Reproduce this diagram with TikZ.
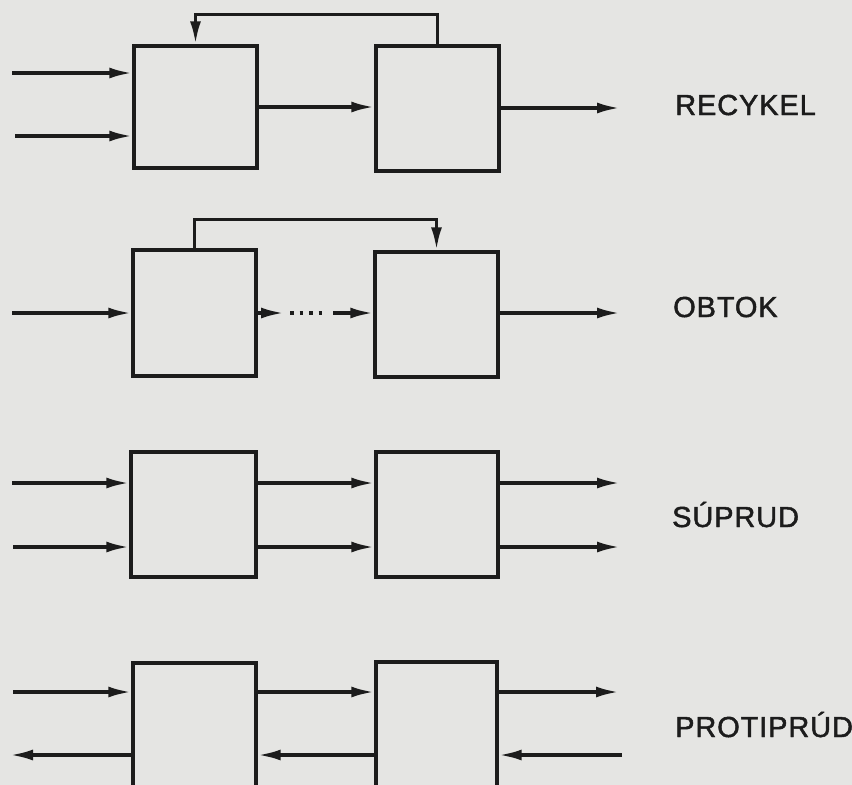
\documentclass[tikz,border=0pt]{standalone}
\usepackage{fontspec}
\setmainfont{Liberation Sans}
\newfontfamily\lblfont[FakeBold=1.6,LetterSpace=3]{Liberation Sans}
\usetikzlibrary{arrows.meta}
\definecolor{paper}{RGB}{229,229,227}
\definecolor{ink}{RGB}{28,28,28}
\begin{document}
\begin{tikzpicture}[x=1pt,y=-1pt,
  blk/.style={draw=ink,line width=3.4pt,inner sep=0pt,minimum width=123pt,minimum height=124pt},
  arr/.style={draw=ink,line width=3.4pt,-{Latex[length=23pt,width=11pt]}},
  lbl/.style={anchor=base west,inner sep=0pt,text=ink,font=\lblfont\fontsize{29}{36}\selectfont}]
\path[use as bounding box,clip] (0,0) rectangle (852,785);
\fill[paper] (0,0) rectangle (852,785);

% ---------- RECYKEL ----------
\node[blk,minimum height=122pt] (a1) at (195.5,107) {};
\node[blk,minimum height=125pt] (b1) at (437.5,108.5) {};
\coordinate (i1a) at (12,73);
\coordinate (i1b) at (15,136);
\coordinate (o1) at (620,108);
\draw[arr] (i1a) -- (i1a -| a1.west);
\draw[arr] (i1b) -- (i1b -| a1.west);
\draw[arr] (a1.east) -- (a1.east -| b1.west);
\draw[arr] (o1 -| b1.east) -- (o1);
\draw[arr] (b1.north) -- ++(0,-30) -| (a1.north);
\node[lbl] (t1) at (675,115) {RECYKEL};

% ---------- OBTOK ----------
\node[blk,minimum height=126pt] (a2) at (194.5,313) {};
\node[blk,minimum height=125pt] (b2) at (436.5,314.5) {};
\coordinate (i2) at (12,313);
\coordinate (m2a) at (284,313);
\coordinate (d2a) at (290,313);
\coordinate (d2b) at (324,313);
\coordinate (m2b) at (333,313);
\coordinate (o2) at (620,313);
\draw[arr] (i2) -- (i2 -| a2.west);
\draw[arr] (a2.east) -- (m2a);
\draw[ink,line width=3.4pt,dash pattern=on 3.5pt off 6pt] (d2a) -- (d2b);
\draw[arr] (m2b) -- (m2b -| b2.west);
\draw[arr] (b2.east |- o2) -- (o2);
\draw[arr] (a2.north) -- ++(0,-29) -| (b2.north);
\node[lbl] (t2) at (673,317) {OBTOK};

% ---------- SUPRUD ----------
\node[blk,minimum width=125pt,minimum height=125pt] (a3) at (193.5,514.5) {};
\node[blk,minimum width=122pt,minimum height=125pt] (b3) at (437,514.5) {};
\coordinate (i3a) at (12,483);
\coordinate (i3b) at (13,547);
\coordinate (o3a) at (620,483);
\coordinate (o3b) at (620,547);
\draw[arr] (i3a) -- (i3a -| a3.west);
\draw[arr] (i3b) -- (i3b -| a3.west);
\draw[arr] (i3a -| a3.east) -- (i3a -| b3.west);
\draw[arr] (i3b -| a3.east) -- (i3b -| b3.west);
\draw[arr] (o3a -| b3.east) -- (o3a);
\draw[arr] (o3b -| b3.east) -- (o3b);
\node[lbl] (t3) at (672,527) {SÚPRUD};

% ---------- PROTIPRUD ----------
\node[blk,minimum height=125pt] (a4) at (194.5,725.5) {};
\node[blk,minimum width=121pt,minimum height=125pt] (b4) at (436.5,724.5) {};
\coordinate (i4) at (13,692);
\coordinate (e4) at (10,755);
\coordinate (o4) at (619,692);
\coordinate (r4) at (622,755);
\draw[arr] (i4) -- (i4 -| a4.west);
\draw[arr] (e4 -| a4.west) -- (e4);
\draw[arr] (i4 -| a4.east) -- (i4 -| b4.west);
\draw[arr] (e4 -| b4.west) -- (e4 -| a4.east);
\draw[arr] (o4 -| b4.east) -- (o4);
\draw[arr] (r4) -- (r4 -| b4.east);
\node[lbl] (t4) at (675,737) {PROTIPRÚD};
\end{tikzpicture}
\end{document}
